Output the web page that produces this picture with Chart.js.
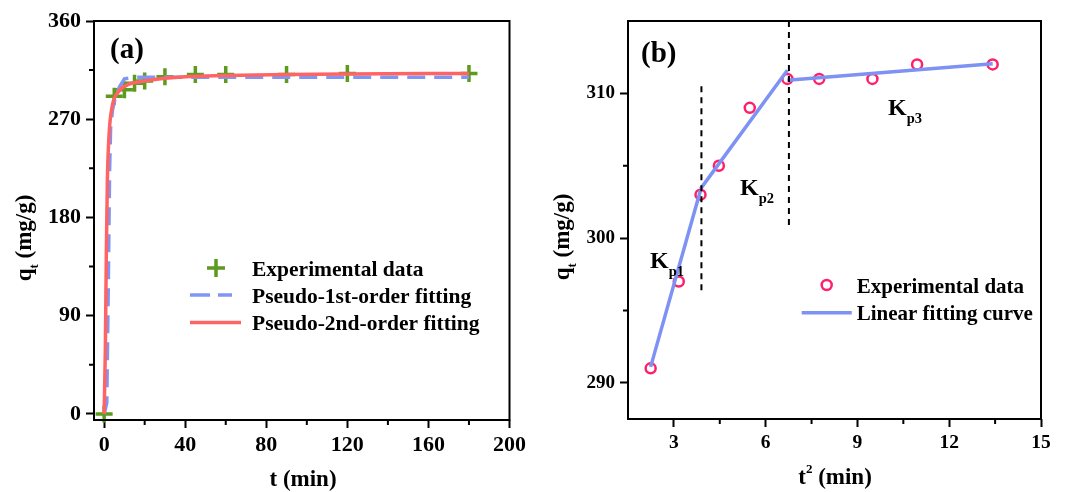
<!DOCTYPE html>
<html>
<head>
<meta charset="utf-8">
<script src="https://cdn.jsdelivr.net/npm/chart.js@4.4.0/dist/chart.umd.min.js"></script>
<style>
  html, body { margin: 0; padding: 0; background: #fff; }
  #wrap { position: relative; width: 1069px; height: 492px; }
  canvas { position: absolute; top: 0; }
  #chartA { left: 0; }
  #chartB { left: 530px; }
</style>
</head>
<body>
<div id="wrap">
  <canvas id="chartA" width="530" height="492"></canvas>
  <canvas id="chartB" width="539" height="492"></canvas>
</div>
<script>
// ---- panel (a): adsorption kinetics ----
const tExp = [0, 5, 10, 15, 20, 30, 45, 60, 90, 120, 180];
const qExp = [0, 291, 297, 303, 305, 309, 311, 311, 311, 312, 312];
// fitted curves
const tPfo = [0, 1.3, 2, 2.7, 3.2, 4.1, 5, 7.4, 10, 15, 20, 180];
const qPfo = [0, 10, 110, 223, 262, 278, 286, 299, 307, 308.5, 308.5, 308.5];
const tPso = [0, 0.6, 1.1, 1.6, 2.5, 4, 6.5, 11, 20, 30, 40, 60, 90, 120, 180];
const qPso = [0, 60, 150, 214, 258, 282, 294, 301, 305, 307.5, 309, 310, 311, 311.5, 312];
const xTicksA = [0, 40, 80, 120, 160, 200];
const xMinorA = [20, 60, 100, 140, 180];
const yTicksA = [0, 90, 180, 270, 360];
const yMinorA = [45, 135, 225, 315];

// ---- panel (b): intraparticle diffusion ----
const sqrtT = [2.24, 3.16, 3.87, 4.47, 5.48, 6.71, 7.75, 9.49, 10.95, 13.42];
const qB = [291, 297, 303, 305, 309, 311, 311, 311, 312, 312];
const fit1X = [2.24, 3.87], fit1Y = [291.1, 303.3];
const fit2X = [3.87, 6.71], fit2Y = [303.4, 311.6];
const fit3X = [6.71, 13.42], fit3Y = [310.9, 312.05];
const div1X = [3.9, 3.9], div1Y = [310.5, 296.2];
const div2X = [6.76, 6.76], div2Y = [315, 300.6];
const xTicksB = [3, 6, 9, 12, 15];
const xMinorB = [4.5, 7.5, 10.5, 13.5];
const yTicksB = [290, 300, 310];
const yMinorB = [295, 305];

const SERIF = '"Liberation Serif", "Times New Roman", serif';
const GREEN = '#5c9b1e', BLUE = '#8096f4', RED = '#ff6464', PINK = '#ff1f6b', LINE = '#7d92f2';
const pts = (xs, ys) => xs.map((x, i) => ({ x, y: ys[i] }));

// text with sub/superscripts, parts = [{t, s, dy}]
function rich(ctx, parts, x, y, align) {
  let w = 0;
  parts.forEach(p => { ctx.font = 'bold ' + p.s + 'px ' + SERIF; p.w = ctx.measureText(p.t).width; w += p.w; });
  let cx = align === 'center' ? x - w / 2 : x;
  ctx.textAlign = 'left';
  ctx.textBaseline = 'alphabetic';
  parts.forEach(p => { ctx.font = 'bold ' + p.s + 'px ' + SERIF; ctx.fillText(p.t, cx, y + (p.dy || 0)); cx += p.w; });
}

function frameAndMinor(chart, xMinor, yMinor) {
  const { ctx, chartArea: a, scales } = chart;
  ctx.save();
  ctx.strokeStyle = '#000';
  ctx.lineWidth = 2;
  ctx.strokeRect(a.left, a.top, a.right - a.left, a.bottom - a.top);
  ctx.beginPath();
  xMinor.forEach(v => { const p = scales.x.getPixelForValue(v); ctx.moveTo(p, a.bottom); ctx.lineTo(p, a.bottom + 5); });
  yMinor.forEach(v => { const p = scales.y.getPixelForValue(v); ctx.moveTo(a.left, p); ctx.lineTo(a.left - 5, p); });
  ctx.stroke();
  ctx.restore();
}

function axisOpts(min, max, ticks, size, fitW, fitH, isX) {
  return {
    type: 'linear', min, max,
    afterBuildTicks: s => { s.ticks = ticks.map(v => ({ value: v })); },
    afterFit: s => { if (isX) s.height = fitH; else s.width = fitW; },
    ticks: { color: '#000', padding: isX ? 4 : 5, font: { family: SERIF, size, weight: 'bold' }, maxRotation: 0, autoSkip: false },
    grid: { display: true, drawOnChartArea: false, drawTicks: true, tickLength: 8, tickWidth: 2, tickColor: '#000' },
    border: { display: false }
  };
}

const baseOpts = {
  responsive: false, animation: false, devicePixelRatio: 1,
  plugins: { legend: { display: false }, tooltip: { enabled: false } }
};

new Chart(document.getElementById('chartA'), {
  type: 'scatter',
  data: {
    datasets: [
      { data: pts(tPso, qPso), showLine: true, borderColor: RED, borderWidth: 3.5, pointRadius: 0, cubicInterpolationMode: 'monotone' },
      { data: pts(tPfo, qPfo), showLine: true, borderColor: BLUE, borderWidth: 3.5, borderDash: [18, 9], pointRadius: 0 },
      { data: pts(tExp, qExp), showLine: false, pointStyle: 'cross', pointRadius: 8.5, borderColor: GREEN, borderWidth: 3.5, clip: false }
    ]
  },
  options: Object.assign({}, baseOpts, {
    layout: { padding: { top: 21, right: 18, left: 0, bottom: 0 } },
    scales: {
      x: axisOpts(-5, 200, xTicksA, 22, 0, 72, true),
      y: axisOpts(-5.5, 360, yTicksA, 22, 94, 0, false)
    }
  }),
  plugins: [{
    id: 'decorA',
    afterDraw(chart) {
      const ctx = chart.ctx;
      frameAndMinor(chart, xMinorA, yMinorA);
      ctx.save();
      ctx.fillStyle = '#000';
      rich(ctx, [{ t: '(a)', s: 29 }], 110, 58, 'left');
      rich(ctx, [{ t: 't (min)', s: 23 }], 303, 486, 'center');
      ctx.save();
      ctx.translate(31, 238);
      ctx.rotate(-Math.PI / 2);
      rich(ctx, [{ t: 'q', s: 23 }, { t: 't', s: 13, dy: 7 }, { t: ' (mg/g)', s: 23 }], 0, 0, 'center');
      ctx.restore();
      // legend
      ctx.strokeStyle = GREEN; ctx.lineWidth = 3.5;
      ctx.beginPath(); ctx.moveTo(207, 268); ctx.lineTo(225, 268); ctx.moveTo(216, 259); ctx.lineTo(216, 277); ctx.stroke();
      ctx.strokeStyle = BLUE; ctx.setLineDash([20, 8]);
      ctx.beginPath(); ctx.moveTo(190, 295); ctx.lineTo(232, 295); ctx.stroke();
      ctx.setLineDash([]);
      ctx.strokeStyle = RED;
      ctx.beginPath(); ctx.moveTo(190, 322.5); ctx.lineTo(241, 322.5); ctx.stroke();
      rich(ctx, [{ t: 'Experimental data', s: 21.5 }], 252, 275.5, 'left');
      rich(ctx, [{ t: 'Pseudo-1st-order fitting', s: 21.5 }], 252, 302.5, 'left');
      rich(ctx, [{ t: 'Pseudo-2nd-order fitting', s: 21.5 }], 252, 330, 'left');
      ctx.restore();
    }
  }]
});

new Chart(document.getElementById('chartB'), {
  type: 'scatter',
  data: {
    datasets: [
      { data: pts(div1X, div1Y), showLine: true, borderColor: '#000', borderWidth: 2, borderDash: [6, 5], pointRadius: 0 },
      { data: pts(div2X, div2Y), showLine: true, borderColor: '#000', borderWidth: 2, borderDash: [6, 5], pointRadius: 0 },
      { data: pts(fit1X, fit1Y), showLine: true, borderColor: LINE, borderWidth: 3.5, pointRadius: 0 },
      { data: pts(fit2X, fit2Y), showLine: true, borderColor: LINE, borderWidth: 3.5, pointRadius: 0 },
      { data: pts(fit3X, fit3Y), showLine: true, borderColor: LINE, borderWidth: 3.5, pointRadius: 0 },
      { data: pts(sqrtT, qB), showLine: false, pointStyle: 'circle', pointRadius: 5, borderColor: PINK, borderWidth: 2.5, backgroundColor: 'rgba(0,0,0,0)', clip: false }
    ]
  },
  options: Object.assign({}, baseOpts, {
    layout: { padding: { top: 21, right: 28, left: 0, bottom: 0 } },
    scales: {
      x: axisOpts(1.5, 15, xTicksB, 19.5, 0, 73, true),
      y: axisOpts(287.5, 315, yTicksB, 19, 98, 0, false)
    }
  }),
  plugins: [{
    id: 'decorB',
    afterDraw(chart) {
      const ctx = chart.ctx;
      frameAndMinor(chart, xMinorB, yMinorB);
      ctx.save();
      ctx.fillStyle = '#000';
      rich(ctx, [{ t: '(b)', s: 29 }], 111, 61.5, 'left');
      rich(ctx, [{ t: 't', s: 23 }, { t: '2', s: 13, dy: -11 }, { t: ' (min)', s: 23 }], 305, 484, 'center');
      ctx.save();
      ctx.translate(39, 237);
      ctx.rotate(-Math.PI / 2);
      rich(ctx, [{ t: 'q', s: 23 }, { t: 't', s: 13, dy: 7 }, { t: ' (mg/g)', s: 23 }], 0, 0, 'center');
      ctx.restore();
      rich(ctx, [{ t: 'K', s: 24 }, { t: 'p1', s: 14.5, dy: 8 }], 120, 268, 'left');
      rich(ctx, [{ t: 'K', s: 24 }, { t: 'p2', s: 14.5, dy: 8 }], 210, 194.5, 'left');
      rich(ctx, [{ t: 'K', s: 24 }, { t: 'p3', s: 14.5, dy: 8 }], 358, 115, 'left');
      // legend
      ctx.strokeStyle = PINK; ctx.lineWidth = 2.5;
      ctx.beginPath(); ctx.arc(296.7, 285, 5, 0, Math.PI * 2); ctx.stroke();
      ctx.strokeStyle = LINE; ctx.lineWidth = 3.5;
      ctx.beginPath(); ctx.moveTo(271.7, 312.7); ctx.lineTo(321.7, 312.7); ctx.stroke();
      rich(ctx, [{ t: 'Experimental data', s: 21 }], 326.7, 292.5, 'left');
      rich(ctx, [{ t: 'Linear fitting curve', s: 21 }], 326.7, 320, 'left');
      ctx.restore();
    }
  }]
});
</script>
</body>
</html>
